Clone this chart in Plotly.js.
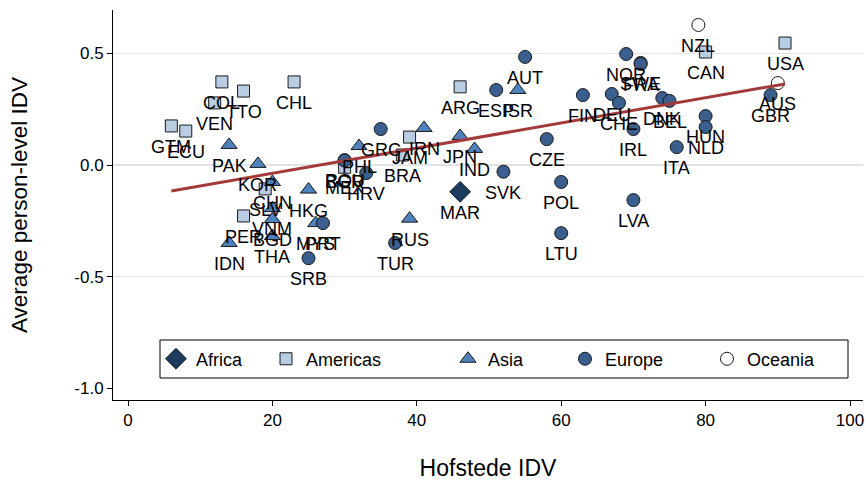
<!DOCTYPE html>
<html><head><meta charset="utf-8">
<script src="https://cdn.plot.ly/plotly-3.0.1.min.js"></script>
<style>html,body{margin:0;padding:0;background:#fff}</style>
</head><body><div id="chart" style="width:866px;height:486px"></div>
<script>
// ---- data ----
const africaCodes = ["MAR"];
const africaX = [46];
const africaY = [-0.12];

const americasCodes = ["COL","TTO","VEN","CHL","GTM","ECU","SLV","PER","MEX","BRA","JAM","ARG","CAN","USA"];
const americasX = [13, 16, 12, 23, 6, 8, 19, 16, 30, 38, 39, 46, 80, 91];
const americasY = [0.372, 0.331, 0.278, 0.372, 0.175, 0.152, -0.107, -0.228, -0.010, 0.045, 0.125, 0.350, 0.506, 0.546];

const asiaCodes = ["PAK","KOR","CHN","VNM","BGD","THA","IDN","HKG","MYS","PHL","IRN","JPN","IND","ISR","RUS"];
const asiaX = [14, 18, 20, 20, 20, 20, 14, 25, 26, 32, 41, 46, 48, 54, 39];
const asiaY = [0.090, 0.005, -0.076, -0.193, -0.242, -0.318, -0.349, -0.110, -0.260, 0.085, 0.166, 0.130, 0.072, 0.336, -0.240];

const europeCodes = ["AUT","ESP","FIN","DEU","CHE","NOR","SWE","FRA","DNK","BEL","IRL","CZE","ITA","HUN","NLD","GBR","POL","LTU","LVA","SVK","GRC","ROU","BGR","HRV","PRT","SRB","TUR"];
const europeX = [55, 51, 63, 67, 68, 69, 71, 71, 74, 75, 70, 58, 76, 80, 80, 89, 60, 60, 70, 52, 35, 30, 30, 33, 27, 25, 37];
const europeY = [0.484, 0.336, 0.313, 0.318, 0.278, 0.497, 0.457, 0.452, 0.300, 0.287, 0.161, 0.116, 0.080, 0.219, 0.170, 0.313, -0.076, -0.305, -0.157, -0.030, 0.161, 0.022, 0.020, -0.036, -0.260, -0.417, -0.349];

const oceaniaCodes = ["NZL","AUS"];
const oceaniaX = [79, 90];
const oceaniaY = [0.627, 0.367];

const fitX = [6, 91];
const fitY = [-0.116, 0.363];

const yTicks = [-1.0, -0.5, 0.0, 0.5];
const yGrid = [-0.5, 0.0, 0.5];
const xTicks = [0, 20, 40, 60, 80, 100];

// ---- styles ----
const FONT = "Liberation Sans, Arial, sans-serif";
const edge = {color: "#1a1a1a", width: 1};
const groups = [
  {name: "Africa", codes: africaCodes, x: africaX, y: africaY, legend: "legend",
   marker: {symbol: "diamond", size: 16, color: "#1c3b5e", line: edge}},
  {name: "Americas", codes: americasCodes, x: americasX, y: americasY, legend: "legend2",
   marker: {symbol: "square", size: 12, color: "#b8cce4", line: edge}},
  {name: "Asia", codes: asiaCodes, x: asiaX, y: asiaY, legend: "legend3",
   marker: {symbol: "triangle-up", size: 14, color: "#4f81bd", line: edge}},
  {name: "Europe", codes: europeCodes, x: europeX, y: europeY, legend: "legend4",
   marker: {symbol: "circle", size: 13, color: "#3a5f8f", line: edge}},
  {name: "Oceania", codes: oceaniaCodes, x: oceaniaX, y: oceaniaY, legend: "legend5",
   marker: {symbol: "circle", size: 13, color: "#ffffff", line: edge}}
];

const traces = groups.map(g => ({type: "scatter", mode: "markers", name: g.name, x: g.x, y: g.y,
  text: g.codes, marker: g.marker, legend: g.legend, cliponaxis: false, hoverinfo: "text+x+y"}));
traces.push({type: "scatter", mode: "lines", x: fitX, y: fitY, showlegend: false, hoverinfo: "skip",
  line: {color: "#a33a3a", width: 3}});
traces.push({type: "scatter", mode: "markers", x: [null], y: [null], yaxis: "y2", showlegend: false, hoverinfo: "skip"});

// point labels placed below each marker through the data axes
const annotations = [];
groups.forEach(g => g.codes.forEach((c, i) => annotations.push({
  x: g.x[i], y: g.y[i], xref: "x", yref: "y", text: c, showarrow: false,
  xanchor: "center", yanchor: "middle", yshift: -21,
  font: {family: FONT, size: 18, color: "#000"}})));

const legendBase = {orientation: "h", yanchor: "middle", y: 0.105, xanchor: "left",
  bgcolor: "rgba(0,0,0,0)", borderwidth: 0, font: {family: FONT, size: 18, color: "#000"}};
const legendLeftPx = [156, 266, 448, 565, 707];
const plotL = 113, plotW = 750, plotB = 400, plotH = 390;
const toPaperX = px => (px - plotL) / plotW;

const yRange = [-1.052, 0.694];
const layout = {
  width: 866, height: 486,
  margin: {l: plotL, r: 866 - plotL - plotW, t: 10, b: 486 - plotB},
  paper_bgcolor: "#fff", plot_bgcolor: "#fff",
  font: {family: FONT, color: "#000"},
  showlegend: true,
  xaxis: {range: [-2.08, 101.8], tickvals: xTicks, ticktext: xTicks.map(String),
    showgrid: false, zeroline: false, showline: true, linecolor: "#000", linewidth: 1,
    ticks: "outside", ticklen: 5, tickcolor: "#000", tickfont: {family: FONT, size: 17},
    title: {text: "Hofstede IDV", font: {family: FONT, size: 23}, standoff: 30}},
  yaxis: {range: yRange, tickvals: yTicks, ticktext: yTicks.map(v => v.toFixed(1)),
    showgrid: false, zeroline: false, showline: true, linecolor: "#000", linewidth: 1,
    ticks: "outside", ticklen: 5, tickcolor: "#000", tickfont: {family: FONT, size: 17},
    title: {text: "Average person-level IDV", font: {family: FONT, size: 22.5}, standoff: 40}},
  yaxis2: {range: yRange, overlaying: "y", tickvals: yGrid, showgrid: true, gridcolor: "#e3e3e3",
    gridwidth: 1.5, showticklabels: false, ticks: "", zeroline: false, showline: false},
  annotations: annotations,
  shapes: [{type: "rect", xref: "paper", yref: "paper", layer: "below",
    x0: toPaperX(160), x1: toPaperX(848), y0: (plotB - 378) / plotH, y1: (plotB - 340) / plotH,
    line: {color: "#000", width: 1}, fillcolor: "#fff"}]
};
["legend", "legend2", "legend3", "legend4", "legend5"].forEach((k, i) => {
  layout[k] = Object.assign({}, legendBase, {x: toPaperX(legendLeftPx[i])});
});

Plotly.newPlot("chart", traces, layout, {displayModeBar: false, staticPlot: true});
</script>
</body></html>
